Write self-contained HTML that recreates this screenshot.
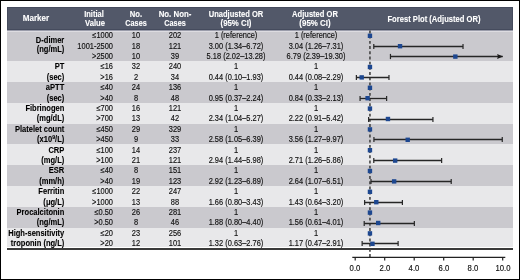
<!DOCTYPE html><html><head><meta charset="utf-8"><style>
*{margin:0;padding:0;box-sizing:border-box}
html,body{width:520px;height:280px;overflow:hidden;background:#fff}
body{position:relative;font-family:"Liberation Sans",sans-serif;color:#1a1a1a}
.wrap{position:absolute;left:0;top:0;width:520px;height:280px;will-change:transform}
.frame{position:absolute;left:0;top:0;width:520px;height:280px;border:1px solid #000}
.b{position:absolute}
.t{position:absolute;white-space:nowrap;line-height:10.4px;height:10.4px}
.n{font-size:8.2px;transform:scaleX(0.91);color:#111;-webkit-text-stroke:0.15px #111}
.l{font-size:8.2px;font-weight:bold;text-align:right;left:0;width:64.3px;color:#000;-webkit-text-stroke:0.1px #000;transform:scaleX(0.92);transform-origin:100% 50%}
.h{position:absolute;white-space:nowrap;font-size:8.6px;line-height:10px;height:10px;color:#fff;font-weight:bold;text-align:center;-webkit-text-stroke:0.1px #fff}
.r{text-align:right;transform-origin:100% 50%}
.c{text-align:center;transform-origin:50% 50%}
sup{font-size:70%;vertical-align:baseline;position:relative;top:-3px;line-height:0}
</style></head><body><div class="wrap">
<div class="frame"></div>

<div class="b" style="left:7px;top:7px;width:506px;height:23px;background:#525869;border:1px solid #454b5d"></div>
<div class="b" style="left:7px;top:30px;width:506px;height:1px;background:#9a9caa"></div>
<div class="h" style="left:-23.70px;top:13.10px;width:120px;transform:scaleX(0.939)">Marker</div>
<div class="h" style="left:34.40px;top:8.60px;width:120px;transform:scaleX(0.873)">Initial</div>
<div class="h" style="left:34.50px;top:18.10px;width:120px;transform:scaleX(0.894)">Value</div>
<div class="h" style="left:75.80px;top:8.60px;width:120px;transform:scaleX(0.888)">No.</div>
<div class="h" style="left:75.80px;top:18.10px;width:120px;transform:scaleX(0.850)">Cases</div>
<div class="h" style="left:115.10px;top:8.60px;width:120px;transform:scaleX(0.913)">No. Non-</div>
<div class="h" style="left:115.00px;top:18.10px;width:120px;transform:scaleX(0.850)">Cases</div>
<div class="h" style="left:176.00px;top:8.60px;width:120px;transform:scaleX(0.877)">Unadjusted OR</div>
<div class="h" style="left:175.70px;top:18.10px;width:120px;transform:scaleX(0.911)">(95% CI)</div>
<div class="h" style="left:255.30px;top:8.60px;width:120px;transform:scaleX(0.879)">Adjusted OR</div>
<div class="h" style="left:255.10px;top:18.10px;width:120px;transform:scaleX(0.923)">(95% CI)</div>
<div class="h" style="left:374.00px;top:13.50px;width:120px;transform:scaleX(0.886)">Forest Plot (Adjusted OR)</div>
<div class="b" style="left:7px;top:31px;width:506px;height:30.00px;background:#cac9ce"></div>
<div class="b" style="left:7px;top:61px;width:506px;height:21.00px;background:#e8e8ea"></div>
<div class="b" style="left:7px;top:82px;width:506px;height:20.60px;background:#cac9ce"></div>
<div class="b" style="left:7px;top:102.6px;width:506px;height:21.00px;background:#e8e8ea"></div>
<div class="b" style="left:7px;top:123.6px;width:506px;height:20.80px;background:#cac9ce"></div>
<div class="b" style="left:7px;top:144.4px;width:506px;height:20.80px;background:#e8e8ea"></div>
<div class="b" style="left:7px;top:165.2px;width:506px;height:20.80px;background:#cac9ce"></div>
<div class="b" style="left:7px;top:186px;width:506px;height:20.80px;background:#e8e8ea"></div>
<div class="b" style="left:7px;top:206.8px;width:506px;height:20.90px;background:#cac9ce"></div>
<div class="b" style="left:7px;top:227.7px;width:506px;height:19.30px;background:#e8e8ea"></div>
<div class="b" style="left:7px;top:31px;width:506px;height:1px;background:#dddce1"></div>
<div class="b" style="left:7px;top:248px;width:506px;height:2px;background:#3a3a3a"></div>
<div class="t l" style="top:36.1px;line-height:9px;height:9px">D-dimer</div>
<div class="t l" style="top:45px;line-height:9px;height:9px">(ng/mL)</div>
<div class="t n r" style="left:52.7px;width:60px;top:31.20px">≤1000</div>
<div class="t n c" style="left:116.20px;width:40px;top:31.20px">10</div>
<div class="t n c" style="left:155.00px;width:40px;top:31.20px">202</div>
<div class="t n c" style="left:195.70px;width:80px;top:31.20px">1 (reference)</div>
<div class="t n c" style="left:275.50px;width:80px;top:31.20px">1 (reference)</div>
<div class="t n r" style="left:52.7px;width:60px;top:41.60px">1001-2500</div>
<div class="t n c" style="left:116.20px;width:40px;top:41.60px">18</div>
<div class="t n c" style="left:155.00px;width:40px;top:41.60px">121</div>
<div class="t n c" style="left:195.70px;width:80px;top:41.60px">3.00 (1.34–6.72)</div>
<div class="t n c" style="left:275.50px;width:80px;top:41.60px">3.04 (1.26–7.31)</div>
<div class="t n r" style="left:52.7px;width:60px;top:52.00px">&gt;2500</div>
<div class="t n c" style="left:116.20px;width:40px;top:52.00px">10</div>
<div class="t n c" style="left:155.00px;width:40px;top:52.00px">39</div>
<div class="t n c" style="left:195.70px;width:80px;top:52.00px">5.18 (2.02–13.28)</div>
<div class="t n c" style="left:275.50px;width:80px;top:52.00px">6.79 (2.39–19.30)</div>
<div class="t l" style="top:62.40px">PT</div>
<div class="t l" style="top:72.80px">(sec)</div>
<div class="t n r" style="left:52.7px;width:60px;top:62.40px">≤16</div>
<div class="t n c" style="left:116.20px;width:40px;top:62.40px">32</div>
<div class="t n c" style="left:155.00px;width:40px;top:62.40px">240</div>
<div class="t n c" style="left:195.70px;width:80px;top:62.40px">1</div>
<div class="t n c" style="left:275.50px;width:80px;top:62.40px">1</div>
<div class="t n r" style="left:52.7px;width:60px;top:72.80px">&gt;16</div>
<div class="t n c" style="left:116.20px;width:40px;top:72.80px">2</div>
<div class="t n c" style="left:155.00px;width:40px;top:72.80px">34</div>
<div class="t n c" style="left:195.70px;width:80px;top:72.80px">0.44 (0.10–1.93)</div>
<div class="t n c" style="left:275.50px;width:80px;top:72.80px">0.44 (0.08–2.29)</div>
<div class="t l" style="top:83.20px">aPTT</div>
<div class="t l" style="top:93.60px">(sec)</div>
<div class="t n r" style="left:52.7px;width:60px;top:83.20px">≤40</div>
<div class="t n c" style="left:116.20px;width:40px;top:83.20px">24</div>
<div class="t n c" style="left:155.00px;width:40px;top:83.20px">136</div>
<div class="t n c" style="left:195.70px;width:80px;top:83.20px">1</div>
<div class="t n c" style="left:275.50px;width:80px;top:83.20px">1</div>
<div class="t n r" style="left:52.7px;width:60px;top:93.60px">&gt;40</div>
<div class="t n c" style="left:116.20px;width:40px;top:93.60px">8</div>
<div class="t n c" style="left:155.00px;width:40px;top:93.60px">48</div>
<div class="t n c" style="left:195.70px;width:80px;top:93.60px">0.95 (0.37–2.24)</div>
<div class="t n c" style="left:275.50px;width:80px;top:93.60px">0.84 (0.33–2.13)</div>
<div class="t l" style="top:104.00px">Fibrinogen</div>
<div class="t l" style="top:114.40px">(mg/dL)</div>
<div class="t n r" style="left:52.7px;width:60px;top:104.00px">≤700</div>
<div class="t n c" style="left:116.20px;width:40px;top:104.00px">16</div>
<div class="t n c" style="left:155.00px;width:40px;top:104.00px">121</div>
<div class="t n c" style="left:195.70px;width:80px;top:104.00px">1</div>
<div class="t n c" style="left:275.50px;width:80px;top:104.00px">1</div>
<div class="t n r" style="left:52.7px;width:60px;top:114.40px">&gt;700</div>
<div class="t n c" style="left:116.20px;width:40px;top:114.40px">13</div>
<div class="t n c" style="left:155.00px;width:40px;top:114.40px">42</div>
<div class="t n c" style="left:195.70px;width:80px;top:114.40px">2.34 (1.04–5.27)</div>
<div class="t n c" style="left:275.50px;width:80px;top:114.40px">2.22 (0.91–5.42)</div>
<div class="t l" style="top:124.80px">Platelet count</div>
<div class="t l" style="top:135.20px">(x10<sup>9</sup>/L)</div>
<div class="t n r" style="left:52.7px;width:60px;top:124.80px">≤450</div>
<div class="t n c" style="left:116.20px;width:40px;top:124.80px">29</div>
<div class="t n c" style="left:155.00px;width:40px;top:124.80px">329</div>
<div class="t n c" style="left:195.70px;width:80px;top:124.80px">1</div>
<div class="t n c" style="left:275.50px;width:80px;top:124.80px">1</div>
<div class="t n r" style="left:52.7px;width:60px;top:135.20px">&gt;450</div>
<div class="t n c" style="left:116.20px;width:40px;top:135.20px">9</div>
<div class="t n c" style="left:155.00px;width:40px;top:135.20px">33</div>
<div class="t n c" style="left:195.70px;width:80px;top:135.20px">2.58 (1.05–6.39)</div>
<div class="t n c" style="left:275.50px;width:80px;top:135.20px">3.56 (1.27–9.97)</div>
<div class="t l" style="top:145.60px">CRP</div>
<div class="t l" style="top:156.00px">(mg/L)</div>
<div class="t n r" style="left:52.7px;width:60px;top:145.60px">≤100</div>
<div class="t n c" style="left:116.20px;width:40px;top:145.60px">14</div>
<div class="t n c" style="left:155.00px;width:40px;top:145.60px">237</div>
<div class="t n c" style="left:195.70px;width:80px;top:145.60px">1</div>
<div class="t n c" style="left:275.50px;width:80px;top:145.60px">1</div>
<div class="t n r" style="left:52.7px;width:60px;top:156.00px">&gt;100</div>
<div class="t n c" style="left:116.20px;width:40px;top:156.00px">21</div>
<div class="t n c" style="left:155.00px;width:40px;top:156.00px">121</div>
<div class="t n c" style="left:195.70px;width:80px;top:156.00px">2.94 (1.44–5.98)</div>
<div class="t n c" style="left:275.50px;width:80px;top:156.00px">2.71 (1.26–5.86)</div>
<div class="t l" style="top:166.40px">ESR</div>
<div class="t l" style="top:176.80px">(mm/h)</div>
<div class="t n r" style="left:52.7px;width:60px;top:166.40px">≤40</div>
<div class="t n c" style="left:116.20px;width:40px;top:166.40px">8</div>
<div class="t n c" style="left:155.00px;width:40px;top:166.40px">151</div>
<div class="t n c" style="left:195.70px;width:80px;top:166.40px">1</div>
<div class="t n c" style="left:275.50px;width:80px;top:166.40px">1</div>
<div class="t n r" style="left:52.7px;width:60px;top:176.80px">&gt;40</div>
<div class="t n c" style="left:116.20px;width:40px;top:176.80px">19</div>
<div class="t n c" style="left:155.00px;width:40px;top:176.80px">123</div>
<div class="t n c" style="left:195.70px;width:80px;top:176.80px">2.92 (1.23–6.89)</div>
<div class="t n c" style="left:275.50px;width:80px;top:176.80px">2.64 (1.07–6.51)</div>
<div class="t l" style="top:187.20px">Ferritin</div>
<div class="t l" style="top:197.60px">(μg/L)</div>
<div class="t n r" style="left:52.7px;width:60px;top:187.20px">≤1000</div>
<div class="t n c" style="left:116.20px;width:40px;top:187.20px">22</div>
<div class="t n c" style="left:155.00px;width:40px;top:187.20px">247</div>
<div class="t n c" style="left:195.70px;width:80px;top:187.20px">1</div>
<div class="t n c" style="left:275.50px;width:80px;top:187.20px">1</div>
<div class="t n r" style="left:52.7px;width:60px;top:197.60px">&gt;1000</div>
<div class="t n c" style="left:116.20px;width:40px;top:197.60px">13</div>
<div class="t n c" style="left:155.00px;width:40px;top:197.60px">88</div>
<div class="t n c" style="left:195.70px;width:80px;top:197.60px">1.66 (0.80–3.43)</div>
<div class="t n c" style="left:275.50px;width:80px;top:197.60px">1.43 (0.64–3.20)</div>
<div class="t l" style="top:208.00px">Procalcitonin</div>
<div class="t l" style="top:218.40px">(ng/mL)</div>
<div class="t n r" style="left:52.7px;width:60px;top:208.00px">≤0.50</div>
<div class="t n c" style="left:116.20px;width:40px;top:208.00px">26</div>
<div class="t n c" style="left:155.00px;width:40px;top:208.00px">281</div>
<div class="t n c" style="left:195.70px;width:80px;top:208.00px">1</div>
<div class="t n c" style="left:275.50px;width:80px;top:208.00px">1</div>
<div class="t n r" style="left:52.7px;width:60px;top:218.40px">&gt;0.50</div>
<div class="t n c" style="left:116.20px;width:40px;top:218.40px">8</div>
<div class="t n c" style="left:155.00px;width:40px;top:218.40px">46</div>
<div class="t n c" style="left:195.70px;width:80px;top:218.40px">1.88 (0.80–4.40)</div>
<div class="t n c" style="left:275.50px;width:80px;top:218.40px">1.56 (0.61–4.01)</div>
<div class="t l" style="top:228.80px">High-sensitivity</div>
<div class="t l" style="top:239.20px">troponin (ng/L)</div>
<div class="t n r" style="left:52.7px;width:60px;top:228.80px">≤20</div>
<div class="t n c" style="left:116.20px;width:40px;top:228.80px">23</div>
<div class="t n c" style="left:155.00px;width:40px;top:228.80px">256</div>
<div class="t n c" style="left:195.70px;width:80px;top:228.80px">1</div>
<div class="t n c" style="left:275.50px;width:80px;top:228.80px">1</div>
<div class="t n r" style="left:52.7px;width:60px;top:239.20px">&gt;20</div>
<div class="t n c" style="left:116.20px;width:40px;top:239.20px">12</div>
<div class="t n c" style="left:155.00px;width:40px;top:239.20px">101</div>
<div class="t n c" style="left:195.70px;width:80px;top:239.20px">1.32 (0.63–2.76)</div>
<div class="t n c" style="left:275.50px;width:80px;top:239.20px">1.17 (0.47–2.91)</div>
<svg class="b" style="left:0;top:0" width="520" height="280" viewBox="0 0 520 280">
<line x1="369.95" y1="30.5" x2="369.95" y2="257.5" stroke="#444" stroke-width="1.6" stroke-dasharray="2.9 2.3"/>
<rect x="367.75" y="33.60" width="4.4" height="4.4" fill="#1d4790"/>
<line x1="373.78" y1="46.5" x2="463.02" y2="46.5" stroke="#262626" stroke-width="1.3"/>
<line x1="373.78" y1="43.90" x2="373.78" y2="49.10" stroke="#262626" stroke-width="1.2"/>
<line x1="463.02" y1="43.90" x2="463.02" y2="49.10" stroke="#262626" stroke-width="1.2"/>
<rect x="397.84" y="44.00" width="4.4" height="4.4" fill="#1d4790"/>
<line x1="390.45" y1="56.5" x2="502.70" y2="56.5" stroke="#262626" stroke-width="1.3"/>
<line x1="390.45" y1="53.90" x2="390.45" y2="59.10" stroke="#262626" stroke-width="1.2"/>
<polygon points="497.10,54.00 503.10,56.50 497.10,59.00 497.90,56.50" fill="#1a1a1a"/>
<rect x="453.15" y="54.40" width="4.4" height="4.4" fill="#1d4790"/>
<rect x="367.75" y="64.80" width="4.4" height="4.4" fill="#1d4790"/>
<line x1="356.38" y1="77.5" x2="388.98" y2="77.5" stroke="#262626" stroke-width="1.3"/>
<line x1="356.38" y1="74.90" x2="356.38" y2="80.10" stroke="#262626" stroke-width="1.2"/>
<line x1="388.98" y1="74.90" x2="388.98" y2="80.10" stroke="#262626" stroke-width="1.2"/>
<rect x="359.49" y="75.20" width="4.4" height="4.4" fill="#1d4790"/>
<rect x="367.75" y="85.60" width="4.4" height="4.4" fill="#1d4790"/>
<line x1="360.07" y1="98.5" x2="386.62" y2="98.5" stroke="#262626" stroke-width="1.3"/>
<line x1="360.07" y1="95.90" x2="360.07" y2="101.10" stroke="#262626" stroke-width="1.2"/>
<line x1="386.62" y1="95.90" x2="386.62" y2="101.10" stroke="#262626" stroke-width="1.2"/>
<rect x="365.39" y="96.00" width="4.4" height="4.4" fill="#1d4790"/>
<rect x="367.75" y="106.40" width="4.4" height="4.4" fill="#1d4790"/>
<line x1="368.62" y1="119.5" x2="432.93" y2="119.5" stroke="#262626" stroke-width="1.3"/>
<line x1="368.62" y1="116.90" x2="368.62" y2="122.10" stroke="#262626" stroke-width="1.2"/>
<line x1="432.93" y1="116.90" x2="432.93" y2="122.10" stroke="#262626" stroke-width="1.2"/>
<rect x="385.75" y="116.80" width="4.4" height="4.4" fill="#1d4790"/>
<rect x="367.75" y="127.20" width="4.4" height="4.4" fill="#1d4790"/>
<line x1="373.93" y1="139.5" x2="502.26" y2="139.5" stroke="#262626" stroke-width="1.3"/>
<line x1="373.93" y1="136.90" x2="373.93" y2="142.10" stroke="#262626" stroke-width="1.2"/>
<line x1="502.26" y1="136.90" x2="502.26" y2="142.10" stroke="#262626" stroke-width="1.2"/>
<rect x="405.51" y="137.60" width="4.4" height="4.4" fill="#1d4790"/>
<rect x="367.75" y="148.00" width="4.4" height="4.4" fill="#1d4790"/>
<line x1="373.78" y1="160.5" x2="441.63" y2="160.5" stroke="#262626" stroke-width="1.3"/>
<line x1="373.78" y1="157.90" x2="373.78" y2="163.10" stroke="#262626" stroke-width="1.2"/>
<line x1="441.63" y1="157.90" x2="441.63" y2="163.10" stroke="#262626" stroke-width="1.2"/>
<rect x="392.97" y="158.40" width="4.4" height="4.4" fill="#1d4790"/>
<rect x="367.75" y="168.80" width="4.4" height="4.4" fill="#1d4790"/>
<line x1="370.98" y1="181.5" x2="451.22" y2="181.5" stroke="#262626" stroke-width="1.3"/>
<line x1="370.98" y1="178.90" x2="370.98" y2="184.10" stroke="#262626" stroke-width="1.2"/>
<line x1="451.22" y1="178.90" x2="451.22" y2="184.10" stroke="#262626" stroke-width="1.2"/>
<rect x="391.94" y="179.20" width="4.4" height="4.4" fill="#1d4790"/>
<rect x="367.75" y="189.60" width="4.4" height="4.4" fill="#1d4790"/>
<line x1="364.64" y1="202.5" x2="402.40" y2="202.5" stroke="#262626" stroke-width="1.3"/>
<line x1="364.64" y1="199.90" x2="364.64" y2="205.10" stroke="#262626" stroke-width="1.2"/>
<line x1="402.40" y1="199.90" x2="402.40" y2="205.10" stroke="#262626" stroke-width="1.2"/>
<rect x="374.09" y="200.00" width="4.4" height="4.4" fill="#1d4790"/>
<rect x="367.75" y="210.40" width="4.4" height="4.4" fill="#1d4790"/>
<line x1="364.20" y1="223.5" x2="414.35" y2="223.5" stroke="#262626" stroke-width="1.3"/>
<line x1="364.20" y1="220.90" x2="364.20" y2="226.10" stroke="#262626" stroke-width="1.2"/>
<line x1="414.35" y1="220.90" x2="414.35" y2="226.10" stroke="#262626" stroke-width="1.2"/>
<rect x="376.01" y="220.80" width="4.4" height="4.4" fill="#1d4790"/>
<rect x="367.75" y="231.20" width="4.4" height="4.4" fill="#1d4790"/>
<line x1="362.13" y1="243.5" x2="398.12" y2="243.5" stroke="#262626" stroke-width="1.3"/>
<line x1="362.13" y1="240.90" x2="362.13" y2="246.10" stroke="#262626" stroke-width="1.2"/>
<line x1="398.12" y1="240.90" x2="398.12" y2="246.10" stroke="#262626" stroke-width="1.2"/>
<rect x="370.26" y="241.60" width="4.4" height="4.4" fill="#1d4790"/>
<line x1="352.3" y1="257.4" x2="505.3" y2="257.4" stroke="#222" stroke-width="1.3"/>
<line x1="355.20" y1="257.4" x2="355.20" y2="260.6" stroke="#222" stroke-width="1.2"/>
<line x1="384.70" y1="257.4" x2="384.70" y2="260.6" stroke="#222" stroke-width="1.2"/>
<line x1="414.20" y1="257.4" x2="414.20" y2="260.6" stroke="#222" stroke-width="1.2"/>
<line x1="443.70" y1="257.4" x2="443.70" y2="260.6" stroke="#222" stroke-width="1.2"/>
<line x1="473.20" y1="257.4" x2="473.20" y2="260.6" stroke="#222" stroke-width="1.2"/>
<line x1="502.70" y1="257.4" x2="502.70" y2="260.6" stroke="#222" stroke-width="1.2"/>
</svg>
<div class="t c" style="left:335.20px;width:40px;top:263.4px;font-size:8.3px;line-height:10px;height:10px;transform:scaleX(0.93);color:#111;-webkit-text-stroke:0.15px #111">0.0</div>
<div class="t c" style="left:364.70px;width:40px;top:263.4px;font-size:8.3px;line-height:10px;height:10px;transform:scaleX(0.93);color:#111;-webkit-text-stroke:0.15px #111">2.0</div>
<div class="t c" style="left:394.20px;width:40px;top:263.4px;font-size:8.3px;line-height:10px;height:10px;transform:scaleX(0.93);color:#111;-webkit-text-stroke:0.15px #111">4.0</div>
<div class="t c" style="left:423.70px;width:40px;top:263.4px;font-size:8.3px;line-height:10px;height:10px;transform:scaleX(0.93);color:#111;-webkit-text-stroke:0.15px #111">6.0</div>
<div class="t c" style="left:453.20px;width:40px;top:263.4px;font-size:8.3px;line-height:10px;height:10px;transform:scaleX(0.93);color:#111;-webkit-text-stroke:0.15px #111">8.0</div>
<div class="t c" style="left:482.70px;width:40px;top:263.4px;font-size:8.3px;line-height:10px;height:10px;transform:scaleX(0.93);color:#111;-webkit-text-stroke:0.15px #111">10.0</div>
</div></body></html>
